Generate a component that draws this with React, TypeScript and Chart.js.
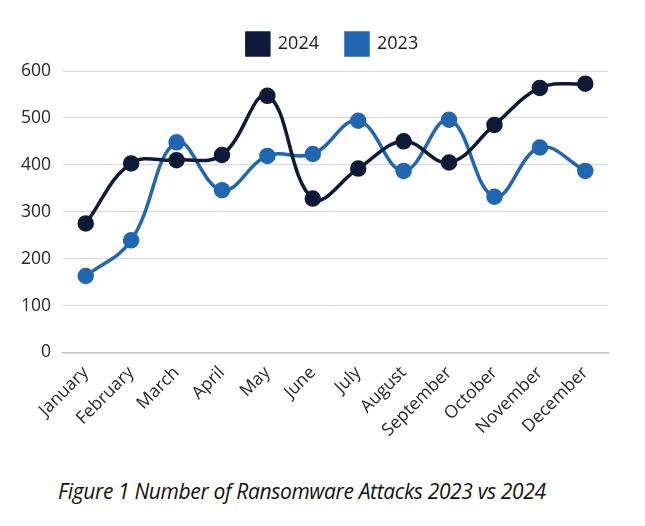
import React, { useEffect, useRef } from "react";
import { Chart, registerables } from "chart.js";

Chart.register(...registerables);

const months = ["January","February","March","April","May","June","July","August","September","October","November","December"];
const attacks2024 = [275, 403, 410, 421, 547, 328, 392, 450, 405, 485, 564, 573];
const attacks2023 = [163, 239, 448, 346, 419, 423, 494, 387, 496, 332, 437, 387];
const yTicks = [0, 100, 200, 300, 400, 500, 600];
const caption = "Figure 1 Number of Ransomware Attacks 2023 vs 2024";

const legendTweak = {
  id: "legendTweak",
  beforeUpdate(chart: any) {
    const lg = chart.legend;
    if (lg && !lg._patched) {
      const orig = lg.fit;
      lg.fit = function (this: any) {
        orig.call(this);
        this.height += 6;
      };
      lg._patched = true;
    }
  },
  afterLayout(chart: any) {
    const lg = chart.legend;
    if (lg) {
      lg.left += 24;
      lg.right += 24;
    }
  },
};

export default function App() {
  const ref = useRef<HTMLCanvasElement>(null);
  useEffect(() => {
    document.body.style.margin = "0";
    const ctx = ref.current!;
    const chart = new Chart(ctx, {
      type: "line",
      data: {
        labels: months,
        datasets: [
          {
            label: "2024",
            data: attacks2024,
            borderColor: "#0c1a38",
            backgroundColor: "#0c1a38",
            borderWidth: 3.5,
            pointRadius: 6.5,
            pointHoverRadius: 6.5,
            tension: 0.4,
          },
          {
            label: "2023",
            data: attacks2023,
            borderColor: "#2166b0",
            backgroundColor: "#2166b0",
            borderWidth: 3.5,
            pointRadius: 6.5,
            pointHoverRadius: 6.5,
            tension: 0.4,
          },
        ],
      },
      plugins: [legendTweak],
      options: {
        animation: false,
        responsive: false,
        devicePixelRatio: 1,
        layout: { padding: { top: 6, right: 37, left: 9, bottom: 0 } },
        plugins: {
          legend: {
            position: "top",
            labels: {
              boxWidth: 22,
              boxHeight: 22,
              padding: 27,
              color: "#1a1a1a",
              font: { family: "Open Sans", size: 18 },
            },
          },
          tooltip: { enabled: false },
        },
        scales: {
          x: {
            offset: true,
            grid: { display: false },
            border: { display: true, color: "#bfbfbf", width: 1.5 },
            ticks: {
              color: "#262626",
              font: { family: "Open Sans", size: 17.5 },
              maxRotation: 45,
              minRotation: 45,
              padding: 2,
            },
          },
          y: {
            min: 0,
            max: 600,
            afterBuildTicks: (axis: any) => {
              axis.ticks = yTicks.map((v) => ({ value: v }));
            },
            grid: { color: "#d9d9d9", lineWidth: 1, drawTicks: false },
            border: { display: false },
            ticks: {
              color: "#262626",
              font: { family: "Open Sans", size: 17.5 },
              padding: 12,
            },
          },
        },
      },
    });
    return () => chart.destroy();
  }, []);
  return (
    <div style={{ position: "relative", width: 645, height: 526, background: "#fff" }}>
      <canvas ref={ref} width={645} height={443} style={{ display: "block" }} />
      <div
        style={{
          position: "absolute",
          left: 58,
          top: 477,
          fontFamily: "Open Sans",
          fontStyle: "italic",
          fontSize: 21,
          color: "#111",
          letterSpacing: -0.35,
          whiteSpace: "nowrap",
        }}
      >
        {caption}
      </div>
    </div>
  );
}
